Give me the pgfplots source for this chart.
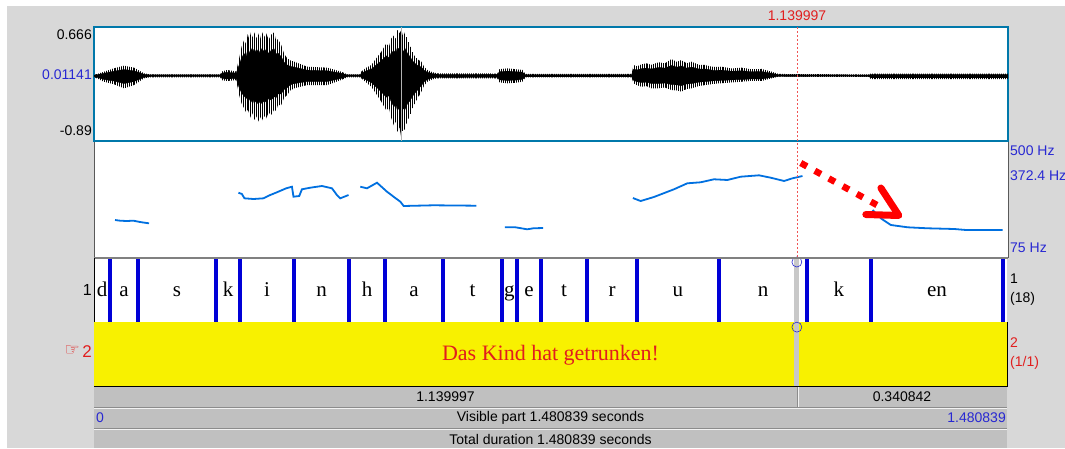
\documentclass[border=0pt]{standalone}
\usepackage{pgfplots}
\pgfplotsset{compat=1.18}
\usepackage{pgfplotstable}
\usetikzlibrary{patterns.meta}
\usepackage{fontspec}
\setmainfont{Liberation Serif}
\newfontfamily\arial{Liberation Sans}
\newfontfamily\dejavu{DejaVu Sans}
\newcommand\sz[1]{\fontsize{#1}{#1}\selectfont}

\definecolor{bg}{RGB}{216,216,216}
\definecolor{bar}{RGB}{192,192,192}
\definecolor{barline}{RGB}{140,140,140}
\definecolor{wavebox}{RGB}{0,120,170}
\definecolor{pitchblue}{RGB}{0,112,224}
\definecolor{labblue}{RGB}{40,40,210}
\definecolor{bndblue}{RGB}{0,0,215}
\definecolor{tieryellow}{RGB}{248,241,0}
\definecolor{cursred}{RGB}{240,85,85}
\definecolor{txtred}{RGB}{225,30,30}
\definecolor{curgray}{RGB}{200,200,200}

% waveform envelope: upper edge forward in time, then lower edge backward
\pgfplotstableread{
t v
0.0000 0.011
0.0162 0.056
0.0324 0.102
0.0487 0.138
0.0649 0.111
0.0811 0.034
0.0908 0.020
0.2044 0.020
0.2076 0.060
0.2150 0.079
0.2230 0.070
0.2303 0.060
0.2352 0.239
0.2392 0.40
0.2433 0.489
0.2465 0.43
0.2490 0.57
0.2514 0.50
0.2545 0.60
0.2570 0.52
0.2595 0.594
0.2630 0.51
0.2660 0.58
0.2690 0.50
0.2720 0.60
0.2757 0.53
0.2790 0.58
0.2830 0.49
0.2870 0.56
0.2919 0.594
0.2950 0.48
0.2980 0.50
0.3033 0.420
0.3080 0.30
0.3130 0.239
0.3180 0.21
0.3244 0.192
0.3455 0.124
0.3779 0.111
0.4006 0.056
0.4103 0.020
0.4314 0.020
0.4330 0.056
0.4410 0.11
0.4493 0.147
0.4575 0.24
0.4655 0.329
0.4735 0.44
0.4780 0.40
0.4817 0.512
0.4860 0.55
0.4890 0.50
0.4914 0.625
0.4950 0.58
0.4979 0.625
0.5010 0.53
0.5040 0.60
0.5077 0.50
0.5120 0.42
0.5160 0.33
0.5190 0.284
0.5250 0.22
0.5304 0.192
0.5350 0.12
0.5401 0.079
0.5480 0.05
0.5563 0.034
0.6536 0.031
0.6569 0.090
0.6700 0.102
0.6830 0.090
0.6942 0.080
0.6990 0.025
0.8710 0.025
0.8742 0.147
0.8800 0.13
0.8872 0.157
0.8950 0.17
0.9030 0.15
0.9148 0.184
0.9250 0.17
0.9358 0.229
0.9440 0.19
0.9520 0.216
0.9600 0.17
0.9683 0.192
0.9800 0.15
0.9910 0.147
1.0040 0.12
1.0169 0.124
1.0330 0.10
1.0494 0.111
1.0650 0.09
1.0818 0.093
1.0980 0.056
1.1094 0.025
1.2554 0.018
1.2586 0.030
1.4808 0.030
1.4808 -0.045
1.2586 -0.045
1.2554 -0.016
1.1094 -0.012
1.0980 -0.034
1.0818 -0.071
1.0650 -0.07
1.0494 -0.081
1.0330 -0.09
1.0169 -0.102
1.0040 -0.11
0.9910 -0.126
0.9800 -0.14
0.9683 -0.171
0.9600 -0.18
0.9520 -0.217
0.9440 -0.20
0.9358 -0.194
0.9250 -0.16
0.9148 -0.171
0.9030 -0.17
0.8950 -0.14
0.8872 -0.149
0.8800 -0.13
0.8742 -0.102
0.8710 -0.023
0.6990 -0.023
0.6942 -0.080
0.6830 -0.095
0.6700 -0.102
0.6569 -0.090
0.6536 -0.037
0.5563 -0.034
0.5480 -0.05
0.5401 -0.081
0.5350 -0.13
0.5304 -0.217
0.5250 -0.30
0.5190 -0.399
0.5160 -0.45
0.5120 -0.55
0.5077 -0.620
0.5040 -0.74
0.5010 -0.72
0.4979 -0.853
0.4950 -0.70
0.4914 -0.763
0.4890 -0.62
0.4860 -0.68
0.4817 -0.580
0.4780 -0.44
0.4735 -0.47
0.4655 -0.354
0.4575 -0.25
0.4493 -0.149
0.4410 -0.09
0.4330 -0.034
0.4314 -0.020
0.4103 -0.020
0.4006 -0.057
0.3779 -0.126
0.3455 -0.126
0.3244 -0.171
0.3180 -0.20
0.3130 -0.262
0.3080 -0.30
0.3033 -0.40
0.2980 -0.40
0.2950 -0.48
0.2919 -0.46
0.2870 -0.535
0.2830 -0.50
0.2790 -0.58
0.2757 -0.55
0.2720 -0.61
0.2690 -0.56
0.2660 -0.626
0.2630 -0.55
0.2595 -0.603
0.2570 -0.50
0.2545 -0.58
0.2514 -0.512
0.2490 -0.46
0.2465 -0.50
0.2433 -0.444
0.2392 -0.38
0.2352 -0.262
0.2303 -0.060
0.2230 -0.065
0.2150 -0.071
0.2076 -0.060
0.2044 -0.020
0.0908 -0.020
0.0811 -0.034
0.0649 -0.126
0.0487 -0.171
0.0324 -0.116
0.0162 -0.081
0.0000 -0.016
}\wave

% pitch contour (Hz), nan breaks the line between voiced stretches
\pgfplotstableread{
t f
0.0341 211.7
0.0422 209.2
0.0530 208.0
0.0638 209.2
0.0746 204.3
0.0892 199.4
nan nan
0.2340 312.6
0.2396 307.8
0.2438 291.9
0.2584 289.3
0.2746 291.9
0.2855 304.1
0.2963 314.1
0.3114 328.9
0.3207 334.8
0.3232 297.9
0.3325 300.4
0.3369 325.2
0.3503 331.1
0.3693 337.4
0.3855 328.9
0.3936 304.1
0.3990 291.9
0.4124 304.1
nan nan
0.4314 334.8
0.4423 328.9
0.4585 349.6
0.4747 316.3
0.4882 293.0
0.4963 279.4
0.5017 263.5
0.5498 266.1
0.6196 264.6
nan nan
0.6655 184.8
0.6828 184.8
0.7018 177.4
0.7120 181.1
0.7277 182.2
nan nan
0.8731 293.0
0.8856 281.9
0.9071 296.7
0.9396 325.2
0.9613 347.4
0.9829 351.1
1.0044 362.2
1.0262 359.6
1.0478 371.8
1.0774 376.9
1.0964 368.1
1.1180 355.9
1.1316 365.8
1.1478 374.3
nan nan
1.2613 248.7
1.2748 218.0
1.2910 193.3
1.3181 184.8
1.3506 181.1
1.3937 178.5
1.4127 174.8
1.4722 174.8
}\pitch

% tier 1 boundaries and labels
\pgfplotstableread{
t h
0.0260 1
0.0714 1
0.1979 1
0.2368 1
0.3244 1
0.4136 1
0.4720 1
0.5660 1
0.6617 1
0.6861 1
0.7250 1
0.7996 1
0.8807 1
1.0137 1
1.1564 1
1.2602 1
1.4743 1
}\bounds

\pgfplotstableread{
t y lab
0.0130 0.406 d
0.0487 0.406 a
0.1347 0.406 s
0.2174 0.406 k
0.2806 0.406 i
0.3690 0.406 n
0.4428 0.406 h
0.5190 0.406 a
0.6139 0.406 t
0.6739 0.406 g
0.7056 0.406 e
0.7623 0.406 t
0.8402 0.406 r
0.9472 0.406 u
1.0851 0.406 n
1.2083 0.406 k
1.3673 0.406 en
}\labels

\pgfplotsset{panel/.style={scale only axis, anchor=north west, width=913pt,
  xmin=0, xmax=1.480839, ticks=none, axis line style={draw=none}}}

\begin{document}
\begin{tikzpicture}
\useasboundingbox (0,0) rectangle (1065pt,-448pt);
\fill[white] (0,0) rectangle (1065pt,-448pt);
\fill[bg] (7pt,-6pt) rectangle (1065pt,-448pt);

% waveform
\begin{axis}[panel, at={(94pt,-27pt)}, width=914pt, height=114pt,
  ymin=-0.89, ymax=0.666, axis background/.style={fill=white},
  axis line style={draw=wavebox, line width=1.5pt}]
\addplot[draw=none, pattern={Lines[angle=90, distance=1.9pt, line width=0.9pt]}, pattern color=black]
  table[x=t, y=v] {\wave} -- cycle;
\addplot[fill=black, draw=black, line width=0.3pt] table[x=t, y expr=0.62*\thisrow{v}] {\wave} -- cycle;
\addplot[gray!60, line width=0.8pt] coordinates {(0.4979,-0.89) (0.4979,0.666)};
\addplot[cursred, line width=1.2pt, dash pattern=on 2pt off 2pt] coordinates {(1.139997,-0.89) (1.139997,0.666)};
\end{axis}

% pitch
\begin{axis}[panel, at={(94pt,-142pt)}, width=914pt, height=115pt,
  ymin=75, ymax=500, axis background/.style={fill=white}, unbounded coords=jump]
\addplot[pitchblue, line width=1.8pt] table[x=t, y=f] {\pitch};
\addplot[cursred, line width=1.2pt, dash pattern=on 2pt off 2pt] coordinates {(1.139997,75) (1.139997,500)};
\addplot[red, line width=6.5pt, dash pattern=on 7pt off 9pt] coordinates {(1.1451,422.4) (1.2684,267.2)};
\addplot[red, line width=7pt, line cap=round, line join=round] coordinates {(1.2749,330.0) (1.3040,228.4) (1.2505,232.1)};
\end{axis}
\draw[gray!70!black, line width=1pt] (94pt,-142pt) -- (94pt,-258pt);
\draw[gray!70!black, line width=1pt] (1008pt,-142pt) -- (1008pt,-258pt);

% tier 1
\begin{axis}[panel, at={(94pt,-258pt)}, height=64pt, ymin=0, ymax=1,
  axis background/.style={fill=white}]
\addplot[curgray, line width=5pt] coordinates {(1.139997,0) (1.139997,1)};
\addplot[bndblue, line width=3.5pt, ycomb] table[x=t, y=h] {\bounds};
\addplot[only marks, mark=*, mark size=0pt, mark options={draw=none, fill=none},
  nodes near coords, point meta=explicit symbolic,
  nodes near coords style={anchor=base, inner sep=0pt, font=\sz{21}}]
  table[x=t, y=y, meta=lab] {\labels};
\addplot[labblue, only marks, mark=o, mark size=5pt, line width=0.6pt] coordinates {(1.139997,0.9375)};
\end{axis}
\draw[gray, line width=2pt] (94pt,-258pt) -- (1008pt,-258pt);
\draw[black, line width=1pt] (94pt,-258pt) -- (94pt,-322pt);

% tier 2
\begin{axis}[panel, at={(94pt,-322pt)}, height=64pt, ymin=0, ymax=1,
  axis background/.style={fill=tieryellow}]
\addplot[curgray, line width=5pt] coordinates {(1.139997,0) (1.139997,1)};
\addplot[only marks, mark=*, mark size=0pt, mark options={draw=none, fill=none},
  nodes near coords, point meta=explicit symbolic,
  nodes near coords style={anchor=base, inner sep=0pt, font=\sz{22}, text=txtred}]
  coordinates {(0.740420,0.406) [Das Kind hat getrunken!]};
\addplot[labblue, only marks, mark=o, mark size=5pt, line width=0.6pt] coordinates {(1.139997,0.92)};
\end{axis}
\draw[black, line width=1pt] (1007.5pt,-322pt) -- (1007.5pt,-386pt) -- (94pt,-386pt);

% bottom bars
\fill[bar] (94pt,-386.5pt) rectangle (1007pt,-448pt);
\draw[barline, line width=1pt] (94pt,-407.5pt) -- (1007pt,-407.5pt);
\draw[white!90!gray, line width=1pt] (94pt,-408.5pt) -- (1007pt,-408.5pt);
\draw[barline, line width=1pt] (94pt,-428.5pt) -- (1007pt,-428.5pt);
\draw[white!90!gray, line width=1pt] (94pt,-429.5pt) -- (1007pt,-429.5pt);
\draw[barline, line width=1pt] (797pt,-386.5pt) -- (797pt,-407pt);
\draw[white!90!gray, line width=1pt] (798pt,-386.5pt) -- (798pt,-407pt);

% texts
\begin{scope}[every node/.style={inner sep=0pt, font=\arial\sz{14}}]
\node[text=txtred] at (797pt,-15.5pt) {1.139997};
\node[anchor=east] at (92pt,-35pt) {0.666};
\node[anchor=east, text=labblue] at (92pt,-75pt) {0.01141};
\node[anchor=east] at (92pt,-131pt) {-0.89};
\node[anchor=west, text=labblue] at (1010pt,-151pt) {500 Hz};
\node[anchor=west, text=labblue] at (1010pt,-176pt) {372.4 Hz};
\node[anchor=west, text=labblue] at (1010pt,-248pt) {75 Hz};
\node[anchor=east, font=\arial\sz{16}] at (92pt,-290pt) {1};
\node[anchor=west] at (1010pt,-279pt) {1};
\node[anchor=west] at (1010pt,-299pt) {(18)};
\node[anchor=east, text=txtred, font=\arial\sz{17}] at (92pt,-352pt) {2};
\node[anchor=east, text=txtred, font=\dejavu\sz{17}] at (80pt,-351pt) {☞};
\node[anchor=west, text=txtred] at (1010pt,-343pt) {2};
\node[anchor=west, text=txtred] at (1010pt,-363pt) {(1/1)};
\node at (445.5pt,-397pt) {1.139997};
\node at (902pt,-397pt) {0.340842};
\node[anchor=west, text=labblue] at (96pt,-418pt) {0};
\node at (550.5pt,-418pt) {Visible part 1.480839 seconds};
\node[anchor=east, text=labblue] at (1006pt,-418pt) {1.480839};
\node at (550.5pt,-439pt) {Total duration 1.480839 seconds};
\end{scope}
\end{tikzpicture}
\end{document}
